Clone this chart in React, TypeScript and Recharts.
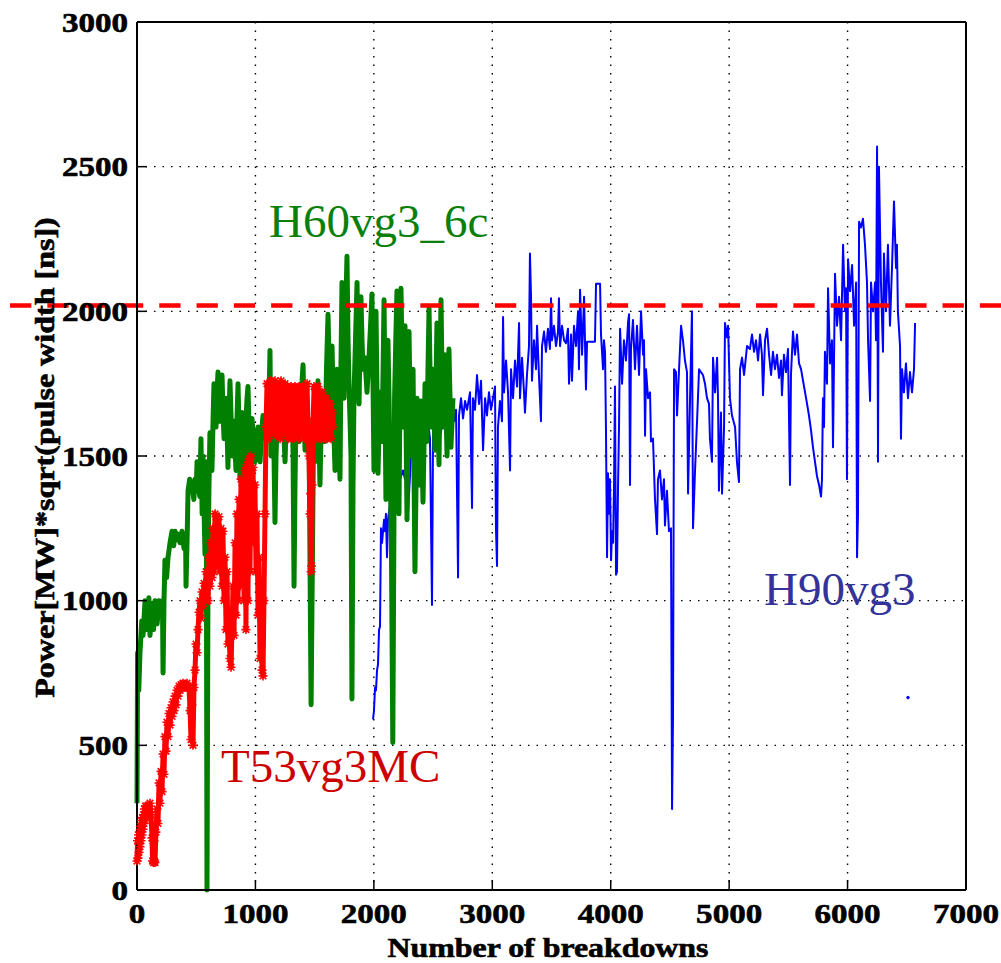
import React from "react";
import { LineChart, Line, XAxis, YAxis, CartesianGrid, ReferenceLine } from "recharts";

const FONT = "'Liberation Serif', 'Times New Roman', Times, serif";
const STRETCH = 1.18;

// tick labels
const xTicks = [0, 1000, 2000, 3000, 4000, 5000, 6000, 7000];
const yTicks = [0, 500, 1000, 1500, 2000, 2500, 3000];

// threshold line
const thresholdPower = 2020;
const thresholdSpan = [-1072, 7296];

// H60vg3_6c  [breakdowns, power]
const h60Points = [
  [0, 300], [5, 820], [15, 690], [25, 820], [40, 930], [51, 880], [68, 1000], [84, 900], [100, 1010], [110, 880],
  [127, 990], [140, 900], [152, 1000], [170, 920], [185, 1000], [200, 960], [215, 1000], [220, 750], [228, 1000],
  [236, 1140], [250, 1080], [262, 1150], [279, 1200], [296, 1240], [310, 1190], [321, 1240], [335, 1210], [346, 1230],
  [363, 1200], [380, 1240], [397, 1180], [410, 1230], [414, 1050], [425, 1250], [431, 1380], [445, 1420], [464, 1400],
  [480, 1350], [490, 1420], [500, 1380], [507, 1480], [520, 1400], [530, 1360], [540, 1560], [550, 1300], [557, 1500],
  [574, 1160], [585, 1480], [591, 0], [600, 1150], [608, 1400], [616, 1580], [625, 1480], [633, 1450], [642, 1620],
  [650, 1750], [659, 1650], [667, 1600], [676, 1720], [684, 1790], [692, 1700], [701, 1620], [709, 1700], [718, 1780],
  [726, 1650], [735, 1560], [743, 1640], [752, 1700], [760, 1600], [768, 1460], [776, 1620], [785, 1760], [794, 1640],
  [802, 1500], [811, 1580], [819, 1620], [828, 1520], [836, 1450], [844, 1620], [853, 1750], [861, 1600], [870, 1420],
  [878, 1560], [887, 1650], [895, 1500], [904, 1380], [912, 1520], [920, 1620], [929, 1700], [937, 1740], [946, 1600],
  [954, 1500], [963, 1580], [971, 1630], [984, 1560], [996, 1480], [1009, 1560], [1022, 1600], [1030, 1540],
  [1039, 1480], [1052, 1580], [1064, 1640], [1072, 1600], [1081, 1560], [1094, 1600], [1106, 1640], [1115, 1700],
  [1123, 1865], [1131, 1500], [1140, 1560], [1148, 1600], [1157, 1500], [1165, 1270], [1174, 1500], [1182, 1600],
  [1191, 1700], [1199, 1750], [1208, 1640], [1216, 1560], [1225, 1600], [1233, 1650], [1242, 1560], [1250, 1480],
  [1259, 1600], [1267, 1700], [1280, 1650], [1292, 1600], [1300, 1660], [1309, 1720], [1318, 1500], [1326, 1050],
  [1334, 1400], [1343, 1650], [1355, 1600], [1368, 1550], [1377, 1650], [1385, 1720], [1394, 1760], [1402, 1815],
  [1410, 1650], [1419, 1520], [1428, 1600], [1436, 1660], [1453, 1560], [1470, 640], [1490, 1550], [1503, 1480],
  [1516, 1650], [1528, 1760], [1537, 1560], [1545, 1400], [1554, 1580], [1562, 1700], [1575, 1620], [1588, 1550],
  [1600, 1800], [1613, 1990], [1622, 1820], [1630, 1700], [1639, 1800], [1647, 1880], [1660, 1620], [1672, 1450],
  [1681, 1650], [1689, 1800], [1702, 1600], [1714, 1420], [1722, 1800], [1731, 2100], [1740, 1880], [1748, 1700],
  [1760, 1950], [1773, 2190], [1782, 1900], [1790, 1750], [1799, 1620], [1807, 1500], [1815, 660], [1824, 1400],
  [1832, 1700], [1845, 1900], [1858, 2100], [1866, 1850], [1875, 1680], [1883, 1900], [1891, 2050], [1900, 1900],
  [1908, 1800], [1925, 1840], [1942, 1720], [1959, 1840], [1972, 1950], [1984, 2060], [1993, 1750], [2001, 1450],
  [2010, 1750], [2018, 2000], [2027, 1700], [2035, 1440], [2044, 1600], [2052, 1720], [2061, 1620], [2069, 1550],
  [2078, 1800], [2086, 2040], [2094, 1700], [2102, 1350], [2111, 1650], [2119, 1900], [2128, 1700], [2136, 1500],
  [2148, 1200], [2160, 510], [2175, 1700], [2185, 1900], [2195, 2070], [2204, 1700], [2212, 1300], [2220, 1700],
  [2229, 2080], [2238, 1850], [2246, 1600], [2255, 1800], [2263, 1950], [2272, 1600], [2280, 1280], [2288, 1600],
  [2297, 1930], [2305, 1700], [2314, 1500], [2322, 1650], [2331, 1800], [2339, 1450], [2347, 1100], [2356, 1400],
  [2364, 1700], [2373, 1550], [2381, 1400], [2390, 1550], [2398, 1690], [2407, 1500], [2415, 1340], [2424, 1550],
  [2432, 1750], [2440, 1650], [2449, 1550], [2457, 1800], [2466, 2010], [2474, 1800], [2483, 1600], [2491, 1700],
  [2500, 1800], [2508, 1650], [2516, 1520], [2525, 1750], [2533, 1960], [2541, 1700], [2550, 1470], [2558, 1750],
  [2567, 2040], [2575, 1800], [2584, 1600], [2592, 1720], [2601, 1850], [2610, 1650], [2618, 1500], [2626, 1700],
  [2634, 1870], [2643, 1700], [2651, 1530], [2660, 1620], [2668, 1700],
];

// T53vg3MC  [breakdowns, power]
const t53Points = [
  [0, 100], [4, 170], [8, 110], [13, 190], [17, 130], [21, 200], [25, 150], [30, 220], [34, 170], [38, 240],
  [42, 190], [47, 250], [51, 210], [55, 260], [59, 230], [63, 280], [68, 240], [72, 290], [76, 250], [80, 290],
  [84, 260], [93, 290], [101, 270], [110, 300], [118, 260], [127, 180], [131, 100], [135, 170], [140, 95], [144, 170],
  [148, 100], [152, 95], [160, 200], [169, 280], [177, 230], [186, 370], [194, 300], [203, 410], [211, 340],
  [220, 470], [228, 400], [236, 530], [245, 480], [253, 580], [262, 530], [270, 610], [279, 570], [287, 630],
  [296, 600], [304, 650], [313, 620], [321, 670], [330, 640], [338, 690], [347, 670], [355, 705], [364, 690],
  [372, 710], [380, 700], [388, 715], [397, 700], [405, 710], [414, 700], [422, 715], [431, 700], [439, 700],
  [448, 620], [456, 520], [464, 640], [473, 500], [481, 700], [490, 760], [498, 850], [507, 820], [515, 900],
  [524, 960], [532, 1000], [540, 940], [549, 1030], [557, 980], [566, 1060], [574, 1000], [583, 1100], [591, 1050],
  [600, 1000], [608, 1150], [617, 1050], [625, 1200], [634, 1080], [642, 1250], [650, 1100], [659, 1300],
  [667, 1150], [676, 1280], [684, 1120], [692, 1290], [701, 1100], [709, 1250], [718, 1050], [726, 1240],
  [735, 1000], [743, 1150], [752, 900], [760, 1100], [768, 850], [777, 900], [785, 800], [794, 770], [802, 900],
  [811, 1050], [819, 880], [828, 1200], [836, 950], [844, 1300], [853, 1000], [861, 1350], [870, 1050], [878, 1420],
  [887, 1100], [895, 1400], [904, 1000], [912, 1450], [920, 900], [929, 1470], [937, 1000], [946, 1490], [954, 1100],
  [963, 1500], [971, 1350], [980, 1460], [988, 1200], [996, 1400], [1005, 1100], [1013, 1300], [1022, 950],
  [1030, 1150], [1039, 800], [1047, 1000], [1056, 760], [1064, 740], [1072, 1000], [1081, 1300], [1089, 1600],
  [1098, 1750], [1106, 1560], [1115, 1740], [1123, 1600], [1131, 1760], [1140, 1580], [1148, 1740], [1157, 1620],
  [1165, 1760], [1174, 1570], [1182, 1750], [1191, 1600], [1199, 1740], [1208, 1560], [1216, 1760], [1225, 1600],
  [1233, 1740], [1242, 1580], [1250, 1750], [1259, 1620], [1267, 1740], [1276, 1560], [1284, 1730], [1293, 1590],
  [1300, 1740], [1309, 1560], [1317, 1720], [1326, 1580], [1334, 1740], [1343, 1600], [1351, 1720], [1360, 1560],
  [1368, 1740], [1377, 1580], [1385, 1720], [1394, 1600], [1402, 1740], [1411, 1560], [1419, 1730], [1428, 1600],
  [1436, 1750], [1445, 1580], [1453, 1500], [1461, 1300], [1466, 1370], [1470, 1100], [1474, 1120], [1478, 1400],
  [1487, 1620], [1495, 1740], [1504, 1580], [1512, 1730], [1520, 1560], [1528, 1740], [1537, 1580], [1545, 1720],
  [1554, 1560], [1562, 1720], [1571, 1580], [1579, 1700], [1588, 1560], [1596, 1700], [1605, 1560], [1613, 1680],
  [1622, 1570], [1630, 1680], [1639, 1560], [1647, 1650], [1655, 1600],
];

// H90vg3  [breakdowns, power]
const h90Points = [
  [1993, 590], [2001, 620], [2010, 700], [2018, 690], [2027, 760], [2035, 780], [2044, 900], [2052, 910], [2060, 1250],
  [2069, 1200], [2086, 1280], [2094, 1240], [2102, 1300], [2111, 1150], [2119, 1280], [2136, 1330], [2153, 1450],
  [2170, 1340], [2187, 1430], [2204, 1440], [2221, 1420], [2246, 1450], [2263, 1420], [2280, 1450], [2288, 1300],
  [2305, 1430], [2322, 1590], [2339, 1470], [2356, 1560], [2373, 1500], [2390, 1580], [2407, 1450], [2424, 1600],
  [2440, 1550], [2457, 1620], [2474, 1560], [2491, 985], [2500, 1580], [2516, 1600], [2533, 1540], [2550, 1640],
  [2567, 1580], [2584, 1680], [2601, 1600], [2626, 1650], [2643, 1570], [2660, 1690], [2677, 1620], [2694, 1660],
  [2711, 1080], [2719, 1640], [2736, 1700], [2753, 1630], [2770, 1690], [2787, 1660], [2812, 1720], [2829, 1320],
  [2837, 1700], [2854, 1660], [2871, 1780], [2888, 1680], [2905, 1760], [2922, 1520], [2939, 1700], [2955, 1640],
  [2972, 1720], [2989, 1660], [3006, 1700], [3023, 1740], [3031, 1250], [3040, 1120], [3048, 1600], [3065, 1690],
  [3082, 1620], [3091, 1980], [3099, 1720], [3116, 1830], [3133, 1720], [3150, 1450], [3158, 1800], [3175, 1700],
  [3192, 1830], [3209, 1740], [3226, 1960], [3234, 1700], [3251, 1840], [3268, 1720], [3276, 1650], [3293, 1780],
  [3310, 1880], [3318, 2200], [3327, 2050], [3335, 1760], [3352, 1900], [3369, 1800], [3378, 1950], [3394, 1780],
  [3411, 1620], [3420, 1880], [3437, 1930], [3453, 1860], [3470, 1940], [3487, 1870], [3496, 2045], [3504, 1900],
  [3521, 1950], [3538, 1880], [3555, 1930], [3563, 2045], [3572, 1880], [3589, 1950], [3606, 1900], [3622, 1890],
  [3639, 1940], [3648, 1750], [3665, 1920], [3673, 1760], [3690, 1950], [3707, 1880], [3724, 2000], [3732, 1800],
  [3741, 2075], [3758, 1850], [3775, 2050], [3791, 1730], [3800, 1895], [3867, 1895], [3876, 2095], [3910, 2095],
  [3918, 1920], [3935, 1800], [3943, 1900], [3952, 1860], [3960, 1590], [3969, 1150], [3977, 1440], [3986, 1300],
  [3994, 1420], [4003, 1140], [4011, 1240], [4020, 1200], [4028, 1400], [4036, 1740], [4045, 1090], [4053, 1100],
  [4062, 1400], [4070, 1600], [4079, 1940], [4096, 1750], [4112, 1900], [4129, 1830], [4146, 1960], [4155, 1990],
  [4163, 1400], [4171, 1870], [4188, 1970], [4205, 1800], [4222, 1950], [4239, 1780], [4256, 2000], [4273, 1850],
  [4281, 1900], [4290, 1570], [4298, 1800], [4315, 1700], [4332, 1720], [4340, 1550], [4357, 1560], [4374, 1350],
  [4391, 1230], [4399, 1420], [4416, 1450], [4433, 1350], [4450, 1420], [4458, 1260], [4475, 1380], [4492, 1240],
  [4509, 1250], [4518, 280], [4526, 600], [4535, 1800], [4551, 1790], [4560, 1640], [4577, 1800], [4594, 1950],
  [4610, 1900], [4627, 1830], [4644, 1790], [4653, 1370], [4670, 1700], [4686, 2000], [4695, 1250], [4712, 1450],
  [4729, 1620], [4746, 1800], [4762, 1790], [4779, 1780], [4796, 1750], [4813, 1700], [4830, 1680], [4838, 1560],
  [4855, 1480], [4864, 1840], [4881, 1720], [4898, 1840], [4906, 1700], [4914, 1380], [4931, 1650], [4940, 1370],
  [4957, 1600], [4965, 1960], [4982, 1910], [4991, 1950], [5007, 1700], [5024, 1640], [5050, 1600], [5066, 1480],
  [5083, 1410], [5092, 1800], [5109, 1840], [5126, 1780], [5151, 1880], [5176, 1870], [5193, 1920], [5210, 1860],
  [5227, 1900], [5244, 1830], [5261, 1920], [5277, 1850], [5286, 1710], [5303, 1900], [5320, 1940], [5337, 1850],
  [5354, 1780], [5370, 1860], [5387, 1800], [5404, 1850], [5421, 1770], [5438, 1830], [5446, 1710], [5463, 1850],
  [5480, 1790], [5497, 1870], [5514, 1400], [5522, 1780], [5539, 1930], [5556, 1850], [5573, 1920], [5590, 1820],
  [5607, 1800], [5624, 1760], [5641, 1720], [5658, 1680], [5674, 1640], [5691, 1590], [5708, 1530], [5725, 1480],
  [5742, 1430], [5759, 1400], [5776, 1360], [5784, 1420], [5792, 1700], [5801, 1600], [5809, 1860], [5826, 1750],
  [5835, 2080], [5852, 1820], [5868, 1900], [5877, 1530], [5894, 2130], [5911, 1950], [5928, 2050], [5945, 1900],
  [5962, 2230], [5978, 2000], [5987, 2080], [5995, 1420], [6004, 2180], [6021, 2070], [6038, 2160], [6055, 1950],
  [6072, 2100], [6080, 1150], [6088, 1300], [6097, 2310], [6113, 2290], [6130, 2320], [6147, 2230], [6164, 2100],
  [6173, 1900], [6190, 1690], [6198, 2100], [6215, 2000], [6232, 2100], [6240, 1900], [6249, 2570], [6257, 1480],
  [6265, 2500], [6282, 2100], [6299, 1860], [6307, 2200], [6324, 2000], [6341, 2230], [6358, 1950], [6375, 2150],
  [6392, 2380], [6409, 2150], [6417, 2230], [6425, 2000], [6443, 1880], [6451, 1560], [6460, 1800], [6476, 1720],
  [6493, 1820], [6510, 1700], [6527, 1790], [6544, 1720], [6561, 1800], [6570, 1960],
];

// isolated H90vg3 sample
const h90Stray = [[6510, 665]];

const toRows = (pts: number[][]) => pts.map(([x, y]) => ({ x, y }));

const h60Data = toRows(h60Points);
const t53Data = toRows(t53Points);
const h90Data = toRows(h90Points);
const h90StrayData = toRows(h90Stray);

const TICK_LEN = 10;

const boldText = {
  fontFamily: FONT,
  fontWeight: "bold" as const,
  fill: "#000",
  stroke: "#000",
  strokeWidth: 0.6,
};

function LeftTick(props: any) {
  const { x, y, payload } = props;
  return (
    <g>
      <line x1={x} x2={x + TICK_LEN} y1={y} y2={y} stroke="#000" strokeWidth={1.5} />
      <text
        transform={`translate(${x - 9},${y + 9.5}) scale(${STRETCH},1)`}
        textAnchor="end"
        fontSize={28}
        {...boldText}
      >
        {payload.value}
      </text>
    </g>
  );
}

function RightTick(props: any) {
  const { x, y } = props;
  return <line x1={x} x2={x - TICK_LEN} y1={y} y2={y} stroke="#000" strokeWidth={1.5} />;
}

function BottomTick(props: any) {
  const { x, y, payload } = props;
  return (
    <g>
      <line x1={x} x2={x} y1={y} y2={y - TICK_LEN} stroke="#000" strokeWidth={1.5} />
      <text
        transform={`translate(${x},${y + 33}) scale(${STRETCH},1)`}
        textAnchor="middle"
        fontSize={28}
        {...boldText}
      >
        {payload.value}
      </text>
    </g>
  );
}

function TopTick(props: any) {
  const { x, y } = props;
  return <line x1={x} x2={x} y1={y} y2={y + TICK_LEN} stroke="#000" strokeWidth={1.5} />;
}

function StarDot(props: any) {
  const { cx, cy, index } = props;
  if (cx == null || cy == null) return <g key={index} />;
  const r = 4.5;
  const s = 3.3;
  const d = `M${cx - r},${cy}H${cx + r}M${cx},${cy - r}V${cy + r}M${cx - s},${cy - s}L${cx + s},${cy + s}M${cx - s},${cy + s}L${cx + s},${cy - s}`;
  return <path key={index} d={d} stroke="#ff0000" strokeWidth={1.6} fill="none" />;
}

export default function App() {
  return (
    <div style={{ position: "absolute", left: 0, top: 0, width: 1001, height: 963, background: "#fff" }}>
      <LineChart width={1001} height={963} margin={{ top: 12, right: 5, bottom: 13, left: 77 }}>
        <CartesianGrid stroke="#000" strokeWidth={1.4} strokeDasharray="1.5 7" />
        <XAxis
          type="number"
          dataKey="x"
          domain={[0, 7000]}
          ticks={xTicks}
          interval={0}
          orientation="bottom"
          height={60}
          tickSize={0}
          tickMargin={0}
          tickLine={false}
          tick={BottomTick}
          axisLine={{ stroke: "#000", strokeWidth: 2 }}
        />
        <XAxis
          xAxisId="top"
          type="number"
          dataKey="x"
          domain={[0, 7000]}
          ticks={xTicks}
          interval={0}
          orientation="top"
          height={10}
          tickSize={0}
          tickMargin={0}
          tickLine={false}
          tick={TopTick}
          axisLine={{ stroke: "#000", strokeWidth: 2 }}
        />
        <YAxis
          type="number"
          domain={[0, 3000]}
          ticks={yTicks}
          interval={0}
          orientation="left"
          width={60}
          tickSize={0}
          tickMargin={0}
          tickLine={false}
          tick={LeftTick}
          axisLine={{ stroke: "#000", strokeWidth: 2 }}
        />
        <YAxis
          yAxisId="right"
          type="number"
          domain={[0, 3000]}
          ticks={yTicks}
          interval={0}
          orientation="right"
          width={30}
          tickSize={0}
          tickMargin={0}
          tickLine={false}
          tick={RightTick}
          axisLine={{ stroke: "#000", strokeWidth: 2 }}
        />
        <Line
          data={h90Data}
          dataKey="y"
          type="linear"
          stroke="#0000ff"
          strokeWidth={2}
          strokeLinejoin="round"
          dot={false}
          activeDot={false}
          isAnimationActive={false}
        />
        <Line
          data={h90StrayData}
          dataKey="y"
          type="linear"
          stroke="#0000ff"
          strokeWidth={2}
          dot={{ r: 1.3, fill: "#0000ff", stroke: "#0000ff", strokeWidth: 1 }}
          activeDot={false}
          isAnimationActive={false}
        />
        <Line
          data={h60Data}
          dataKey="y"
          type="linear"
          stroke="#007f00"
          strokeWidth={5}
          strokeLinejoin="round"
          dot={false}
          activeDot={false}
          isAnimationActive={false}
        />
        <Line
          data={t53Data}
          dataKey="y"
          type="linear"
          stroke="#ff0000"
          strokeWidth={5}
          strokeLinejoin="round"
          dot={StarDot}
          activeDot={false}
          isAnimationActive={false}
        />
        <ReferenceLine
          segment={[
            { x: thresholdSpan[0], y: thresholdPower },
            { x: thresholdSpan[1], y: thresholdPower },
          ]}
          stroke="#ff0000"
          strokeWidth={4.5}
          strokeDasharray="21.3 16"
          ifOverflow="visible"
        />
      </LineChart>
      <svg
        width={1001}
        height={963}
        style={{ position: "absolute", left: 0, top: 0, pointerEvents: "none" }}
      >
        <text x={269} y={237} fontFamily={FONT} fontSize={47} fill="#0a7f0a">
          H60vg3_6c
        </text>
        <text x={221} y={782} fontFamily={FONT} fontSize={47} fill="#cc0000">
          T53vg3MC
        </text>
        <text x={764} y={605} fontFamily={FONT} fontSize={47} fill="#333399">
          H90vg3
        </text>
        <text
          transform={`translate(548,957) scale(${STRETCH},1)`}
          textAnchor="middle"
          fontSize={27}
          {...boldText}
        >
          Number of breakdowns
        </text>
        <text
          transform="translate(54,457.5) rotate(-90) scale(1.145,1)"
          textAnchor="middle"
          fontSize={28}
          {...boldText}
        >
          Power[MW]*sqrt(pulse width [ns])
        </text>
      </svg>
    </div>
  );
}
